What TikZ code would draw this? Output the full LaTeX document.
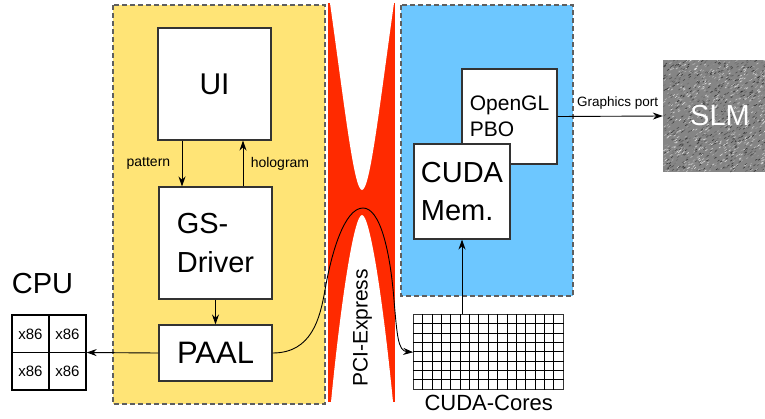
\documentclass[tikz,border=0pt]{standalone}
\usepackage{fontspec}
\setmainfont{Liberation Sans}
\usetikzlibrary{arrows.meta,positioning}
\definecolor{hostyel}{HTML}{FFE476}
\definecolor{gpublue}{HTML}{6DC7FF}
\definecolor{pcired}{HTML}{FF2A00}
\definecolor{dashgr}{HTML}{5F5F5F}
\definecolor{boxgr}{HTML}{333333}
\tikzset{
  region/.style={draw=dashgr,line width=1.4pt,dash pattern=on 5pt off 3pt},
  blk/.style={draw=boxgr,fill=white,line width=1.1pt,inner sep=0pt},
  flow/.style={-{Stealth[length=10pt,width=7pt]},line width=0.9pt},
  lbl/.style={font=\fontsize{14}{14}\selectfont},
}

\begin{document}
\begin{tikzpicture}[x=1pt,y=-1pt]
  \useasboundingbox (0,0) rectangle (765,418);
  % host side and gpu side
  \filldraw[region,fill=hostyel] (113,5) rectangle (325,404);
  \filldraw[region,fill=gpublue] (401,5) rectangle (573,296);
  % pci-express bus
  \fill[pcired] (328,3) rectangle (395,402);
  \fill[white] (330,3) .. controls (345,110) and (354,190) .. (362,190)
    .. controls (370,190) and (379,110) .. (394,3) -- cycle;
  \fill[white] (331,402) .. controls (341,300) and (354,215) .. (362,215)
    .. controls (370,215) and (383,300) .. (393,402) -- cycle;
  \node[rotate=90,font=\fontsize{21}{21}\selectfont] (pcie) at (362.5,328) {PCI-Express};

  \node[blk,minimum width=113pt,minimum height=112pt,font=\fontsize{30}{30}\selectfont] (ui) at (214.5,84) {UI};
  \node[blk,minimum width=113pt,minimum height=112pt,align=left,font=\fontsize{29}{39}\selectfont] (gs) at (215.5,243) {GS-\\Driver};
  \node[blk,minimum width=113pt,minimum height=56pt,font=\fontsize{31}{31}\selectfont] (paal) at (215.5,353) {PAAL};
  \draw[flow] ([xshift=-32.5pt]ui.south) -- ([xshift=-32.5pt]ui.south |- gs.north)
    node[midway,left=8pt,lbl] {pattern};
  \draw[flow] ([xshift=28.5pt]ui.south |- gs.north) -- ([xshift=28.5pt]ui.south)
    node[midway,right=4pt,lbl] {hologram};
  \draw[flow] (gs.south) -- (paal.north);

  % cpu cores
  \node[font=\fontsize{29}{29}\selectfont] (cpulbl) at (42.5,283.5) {CPU};
  \node[draw,line width=1.3pt,minimum width=74pt,minimum height=75pt,inner sep=0pt] (cpu) at (49,352.5) {};
  \draw[line width=1.3pt] (cpu.north) -- (cpu.south) (cpu.west) -- (cpu.east);
  \foreach \cx/\cy [count=\k] in {30.5/334, 67.5/334, 30.5/371.5, 67.5/371.5}
    \node[font=\fontsize{15}{15}\selectfont] (x\k) at (\cx,\cy) {x86};
  \draw[flow] (paal.west) -- (cpu.east);

  % gpu side
  \node[blk,minimum width=95pt,minimum height=95pt,align=left,font=\fontsize{21}{26}\selectfont] (pbo) at (509.5,116.5) {OpenGL\\PBO};
  \node[blk,minimum width=96pt,minimum height=95pt,align=left,font=\fontsize{29}{38}\selectfont] (cumem) at (462,191.5) {CUDA\\Mem.};
  \node[draw=boxgr,line width=1pt,minimum width=150pt,minimum height=75pt,inner sep=0pt] (cores) at (488.7,352.2) {};
  \foreach \i in {1,...,15}
    \draw[line width=0.9pt] ([xshift=\i*9.375pt]cores.north west) -- ([xshift=\i*9.375pt]cores.south west);
  \foreach \j in {1,...,7}
    \draw[line width=0.9pt] ([yshift=-\j*9.375pt]cores.north west) -- ([yshift=-\j*9.375pt]cores.north east);
  \node[below=5pt of cores,inner sep=0pt,font=\fontsize{22}{22}\selectfont] (coreslbl) {CUDA-Cores};
  \draw[flow] (cumem.south |- cores.north) -- (cumem.south);

  % slm
  \begin{scope}
    \clip (663,60) rectangle (765,172);
    \fill[black!48] (663,60) rectangle (765,172);
    \pgfmathsetseed{42}
    \foreach \i in {1,...,1500} {
      \pgfmathsetmacro\sx{663+102*rnd}
      \pgfmathsetmacro\sy{60+112*rnd}
      \pgfmathsetmacro\sg{int(10+75*rnd)}
      \draw[black!\sg,line width=0.6pt] (\sx,\sy) -- ++(2,-1.4);
    }
  \end{scope}
  \node[minimum width=102pt,minimum height=112pt,inner sep=0pt,text=white,font=\fontsize{29}{29}\selectfont] (slm) at (714,116) {\hspace*{12pt}SLM};
  \draw[flow] (pbo.east) -- (slm.west)
    node[pos=0.57,above=3pt,font=\fontsize{13.5}{13.5}\selectfont] {Graphics port};

  % bus transfer
  \draw[flow] (paal.east) .. controls (312,353) and (320,318) .. (325,290)
    .. controls (331,255) and (344,208) .. (363,208)
    .. controls (380,208) and (390,250) .. (394,300)
    .. controls (397,335) and (398,351) .. (cores.west);
\end{tikzpicture}
\end{document}
